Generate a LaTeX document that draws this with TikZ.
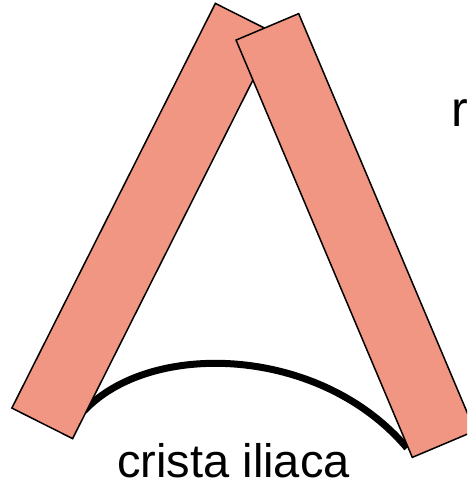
\documentclass[tikz,border=0pt]{standalone}
\usepackage{fontspec}
\setmainfont{Liberation Sans}
\definecolor{bonefill}{RGB}{240,150,130}
\tikzset{
  bar/.style={rectangle, draw=black, line width=1.5pt, fill=bonefill,
              minimum width=453pt, minimum height=68pt, inner sep=0pt},
  crest/.style={line width=7pt, black},
  lbl/.style={inner sep=0pt, anchor=base, text=black}
}
\begin{document}
\begin{tikzpicture}[x=1pt,y=1pt]
\useasboundingbox (0,0) rectangle (467,-491);
\clip (0,0) rectangle (467,-491);
\fill[white] (0,0) rectangle (467,-491);
% iliac crest arc (drawn first, its ends lie under the bars)
\coordinate (crestL) at (84,-411);
\coordinate (crestR) at (407,-448);
\draw[crest] (crestL) .. controls (150,-340) and (320,-345) .. (crestR);
% the two bars
\node[bar, rotate=63.3] (leftbar) at (144,-221) {};
\node[bar, rotate=-67.1] (rightbar) at (355.5,-235.5) {};
% labels
\node[lbl, font=\fontsize{47}{51}\selectfont] (crest) at (233.5,-477) {crista iliaca};
\node[lbl, anchor=base west, font=\fontsize{50}{54}\selectfont] (mlabel) at (451,-126.5) {r};
\end{tikzpicture}
\end{document}
